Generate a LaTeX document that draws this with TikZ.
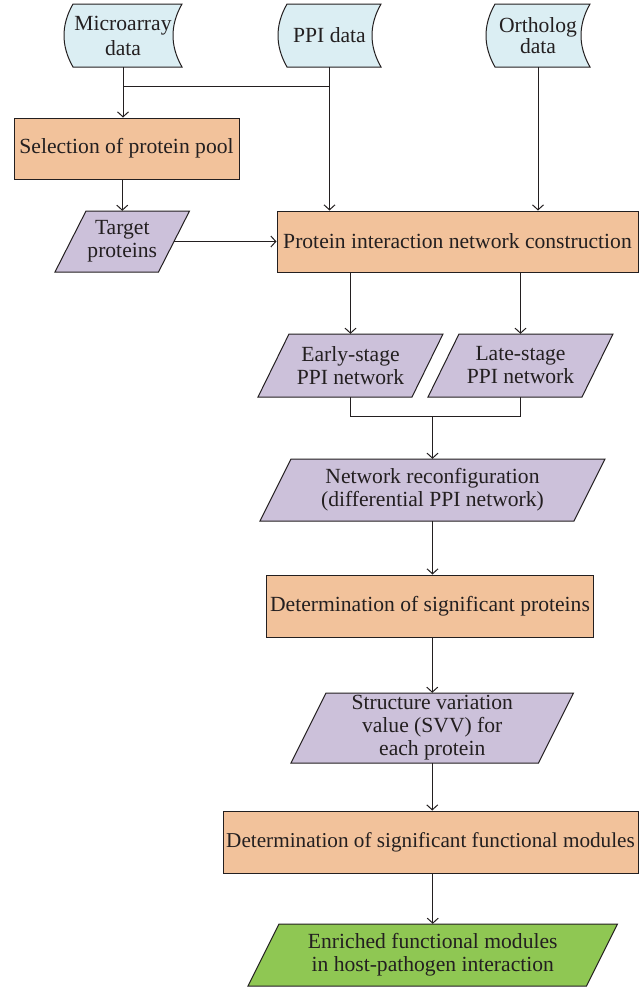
\documentclass[tikz,border=0pt]{standalone}
\usepackage{fontspec}
\setmainfont{Liberation Serif}
\usetikzlibrary{arrows.meta,calc}
\definecolor{docblue}{HTML}{DBEEF3}
\definecolor{procorange}{HTML}{F2C29B}
\definecolor{iopurple}{HTML}{CCC1DA}
\definecolor{outgreen}{HTML}{8FC753}
\definecolor{ink}{HTML}{231F20}
\newcommand\pgram[8]{%
  \filldraw[boxline, fill=#7] (#2-#4/2+#6/2, #3-#5/2) -- ++(#4,0) -- ++(-#6,#5) -- ++(-#4,0) -- cycle;
  \node[txt, minimum width=#4, minimum height=#5] (#1) at (#2,#3) {#8};
}
\begin{document}
\begin{tikzpicture}[x=1pt,y=-1pt,
  boxline/.style={draw=ink, line width=1pt},
  txt/.style={font=\fontsize{21.6}{23}\selectfont, align=center, inner sep=0pt, text=ink},
  procbox/.style={txt, boxline, fill=procorange},
  conn/.style={draw=ink, line width=1pt},
  arr/.style={conn, -{Straight Barb[length=5pt,width=11pt]}}]
\useasboundingbox (0,0) rectangle (639,989);
% stored data shapes
\filldraw[boxline, fill=docblue] (73,4) -- (182,4) .. controls (170,25) and (170,46) .. (182,67) -- (73,67) .. controls (61,46) and (61,25) .. (73,4) -- cycle;
\node[txt, font=\fontsize{21.6}{25}\selectfont, minimum width=118, minimum height=63] (micro) at (123,35.5) {Microarray\\data};
\filldraw[boxline, fill=docblue] (287,4) -- (381,4) .. controls (369,25) and (369,46) .. (381,67) -- (287,67) .. controls (275,46) and (275,25) .. (287,4) -- cycle;
\node[txt, minimum width=103, minimum height=63] (ppi) at (329.5,35.5) {PPI data};
\filldraw[boxline, fill=docblue] (495,4) -- (590,4) .. controls (578,25) and (578,46) .. (590,67) -- (495,67) .. controls (483,46) and (483,25) .. (495,4) -- cycle;
\node[txt, font=\fontsize{21.6}{21}\selectfont, minimum width=104, minimum height=63] (orth) at (538,35.5) {Ortholog\\data};
% process boxes
\node[procbox, minimum width=225, minimum height=61] (sel) at (126.5,148.5) {Selection of protein pool};
\node[procbox, minimum width=361, minimum height=61] (pin) at (457.5,241.5) {Protein interaction network construction};
\node[procbox, minimum width=327, minimum height=62] (detp) at (430,606) {Determination of significant proteins};
\node[procbox, font=\fontsize{21.2}{23}\selectfont, minimum width=415, minimum height=62] (detm) at (430.5,842) {Determination of significant functional modules};
% parallelograms
\pgram{target}{122.25}{241.5}{103.5}{61}{31}{iopurple}{Target\\proteins}
\pgram{early}{350.5}{365.5}{154}{63}{31}{iopurple}{Early-stage\\PPI network}
\pgram{late}{520.5}{365.5}{154}{63}{31}{iopurple}{Late-stage\\PPI network}
\pgram{netrec}{432.5}{490}{314}{62}{31}{iopurple}{Network reconfiguration\\(differential PPI network)}
\pgram{svv}{432.25}{728}{247.5}{70}{35}{iopurple}{Structure variation\\value (SVV) for\\each protein}
\pgram{enr}{432.75}{955}{338.5}{62}{31}{outgreen}{\fontsize{21.6}{30}\selectfont Enriched functional modules\\in host-pathogen interaction}
% connectors
\coordinate (j1) at (123,86);
\coordinate (j2) at (432.5,416);
\draw[arr] (micro.south) -- (micro.south |- sel.north);
\draw[conn] (j1) -- (ppi.south |- j1);
\draw[arr] (ppi.south) -- (ppi.south |- pin.north);
\draw[arr] (orth.south) -- (orth.south |- pin.north);
\draw[arr] (target.north |- sel.south) -- (target.north);
\draw[arr] (target.east) -- (pin.west);
\draw[arr] (early.north |- pin.south) -- (early.north);
\draw[arr] (late.north |- pin.south) -- (late.north);
\draw[conn] (early.south) |- (j2);
\draw[conn] (late.south) |- (j2);
\draw[arr] (j2) -- (netrec.north);
\draw[arr] (netrec.south) -- (netrec.south |- detp.north);
\draw[arr] (svv.north |- detp.south) -- (svv.north);
\draw[arr] (svv.south) -- (svv.south |- detm.north);
\draw[arr] (enr.north |- detm.south) -- (enr.north);
\end{tikzpicture}
\end{document}
